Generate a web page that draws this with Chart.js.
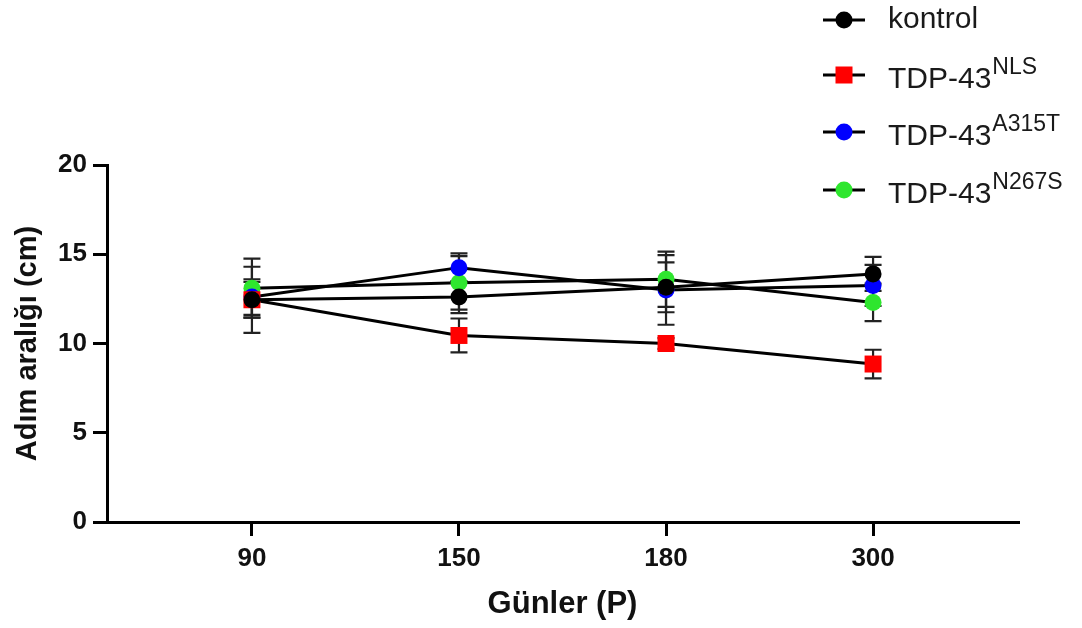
<!DOCTYPE html>
<html>
<head>
<meta charset="utf-8">
<script src="https://cdn.jsdelivr.net/npm/chart.js@4"></script>
<style>
  body { margin: 0; background: #fff; }
  #wrap { width: 1082px; height: 628px; position: relative; }
</style>
</head>
<body>
<div id="wrap"><canvas id="chart"></canvas></div>
<script>
// 資料 (讀自圖片)
const days = ['90', '150', '180', '300'];
const kontrol = [12.45, 12.6, 13.15, 13.9];
const kontrolSem = [1.85, 0.9, 1.4, 0.95];
const nls = [12.45, 10.45, 10.0, 8.85];
const nlsSem = [1.0, 0.95, 0.3, 0.8];
const a315t = [12.6, 14.25, 13.0, 13.25];
const a315tSem = [1.0, 0.8, 1.95, 1.15];
const n267s = [13.1, 13.4, 13.6, 12.3];
const n267sSem = [1.65, 1.5, 1.55, 1.05];
const yTicks = [0, 5, 10, 15, 20];

const FONT = "'Liberation Sans', Arial, Helvetica, sans-serif";
Chart.defaults.font.family = FONT;
Chart.defaults.color = '#111';

const legendItems = [
  { name: 'kontrol', sup: '', color: '#000000', style: 'circle' },
  { name: 'TDP-43', sup: 'NLS', color: '#ff0000', style: 'rect' },
  { name: 'TDP-43', sup: 'A315T', color: '#0000ff', style: 'circle' },
  { name: 'TDP-43', sup: 'N267S', color: '#2ee62e', style: 'circle' }
];

function makeSet(label, values, sem, color, style, radius) {
  return {
    label: label,
    data: values.map((v, i) => ({ x: i, y: v })),
    sem: sem,
    borderColor: '#000',
    borderWidth: 3,
    backgroundColor: color,
    pointBackgroundColor: color,
    pointBorderWidth: 0,
    pointStyle: style,
    pointRadius: radius,
    pointHoverRadius: radius,
    tension: 0
  };
}

// 誤差線
const errorBarPlugin = {
  id: 'errorBars',
  beforeDatasetsDraw: (chart) => {
    const { ctx, scales: { x, y } } = chart;
    ctx.save();
    ctx.strokeStyle = '#222';
    ctx.lineWidth = 2.2;
    chart.data.datasets.forEach((ds) => {
      ds.data.forEach((p, i) => {
        const e = ds.sem[i];
        const px = x.getPixelForValue(p.x);
        const top = y.getPixelForValue(p.y + e);
        const bot = y.getPixelForValue(p.y - e);
        ctx.beginPath();
        ctx.moveTo(px, top); ctx.lineTo(px, bot);
        ctx.moveTo(px - 8.5, top); ctx.lineTo(px + 8.5, top);
        ctx.moveTo(px - 8.5, bot); ctx.lineTo(px + 8.5, bot);
        ctx.stroke();
      });
    });
    ctx.restore();
  }
};

// 圖例 (含上標)
const legendPlugin = {
  id: 'supLegend',
  afterDraw: (chart) => {
    const ctx = chart.ctx;
    const rows = [20, 75, 132, 190];
    const baseOff = [8, 13, 13, 13];
    ctx.save();
    legendItems.forEach((item, i) => {
      const cy = rows[i];
      ctx.strokeStyle = '#000';
      ctx.lineWidth = 3;
      ctx.beginPath();
      ctx.moveTo(823, cy); ctx.lineTo(865, cy);
      ctx.stroke();
      ctx.fillStyle = item.color;
      if (item.style === 'rect') {
        ctx.fillRect(844 - 8.5, cy - 8.5, 17, 17);
      } else {
        ctx.beginPath();
        ctx.arc(844, cy, 8.5, 0, Math.PI * 2);
        ctx.fill();
      }
      ctx.fillStyle = '#1a1a1a';
      ctx.textAlign = 'left';
      ctx.textBaseline = 'alphabetic';
      ctx.font = '30px ' + FONT;
      const base = cy + baseOff[i];
      ctx.fillText(item.name, 888, base);
      if (item.sup) {
        const w = ctx.measureText(item.name).width;
        ctx.font = '23px ' + FONT;
        ctx.fillText(item.sup, 888 + w + 1, base - 14);
      }
    });
    ctx.restore();
  }
};

new Chart(document.getElementById('chart'), {
  type: 'line',
  data: {
    datasets: [
      makeSet('kontrol', kontrol, kontrolSem, '#000000', 'circle', 8.5),
      makeSet('TDP-43 NLS', nls, nlsSem, '#ff0000', 'rect', 12),
      makeSet('TDP-43 A315T', a315t, a315tSem, '#0000ff', 'circle', 8.5),
      makeSet('TDP-43 N267S', n267s, n267sSem, '#2ee62e', 'circle', 8.5)
    ]
  },
  options: {
    responsive: true,
    maintainAspectRatio: false,
    animation: false,
    layout: { padding: { top: 165, right: 64, left: 0, bottom: 0 } },
    plugins: {
      legend: { display: false },
      tooltip: { enabled: false }
    },
    scales: {
      x: {
        type: 'linear',
        min: -0.7,
        max: 3.7,
        afterBuildTicks: (scale) => { scale.ticks = days.map((d, i) => ({ value: i })); },
        afterFit: (scale) => { scale.height = 106; },
        ticks: {
          callback: (v) => days[v],
          font: { size: 26, weight: 'bold' },
          color: '#111',
          padding: 7,
          maxRotation: 0
        },
        grid: {
          drawOnChartArea: false,
          drawTicks: true,
          tickLength: 14,
          tickWidth: 3,
          tickColor: '#000',
          lineWidth: 3,
          color: '#000'
        },
        border: { display: true, width: 3, color: '#000' },
        title: {
          display: true,
          text: 'Günler (P)',
          font: { size: 31, weight: 'bold' },
          color: '#111',
          padding: { top: 0, bottom: 5 }
        }
      },
      y: {
        min: 0,
        max: 20,
        afterBuildTicks: (scale) => { scale.ticks = yTicks.map((v) => ({ value: v })); },
        afterFit: (scale) => { scale.width = 107; },
        ticks: {
          font: { size: 26, weight: 'bold' },
          color: '#111',
          padding: 6
        },
        grid: {
          drawOnChartArea: false,
          drawTicks: true,
          tickLength: 14,
          tickWidth: 3,
          tickColor: '#000',
          lineWidth: 3,
          color: '#000'
        },
        border: { display: true, width: 3, color: '#000' },
        title: {
          display: true,
          text: 'Adım aralığı (cm)',
          font: { size: 29, weight: 'bold' },
          color: '#111',
          padding: { top: 11, bottom: 0 }
        }
      }
    }
  },
  plugins: [errorBarPlugin, legendPlugin]
});
</script>
</body>
</html>
